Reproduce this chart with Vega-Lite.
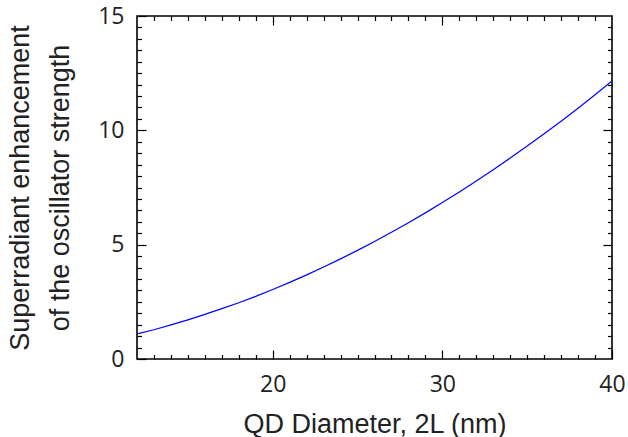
{
  "$schema": "https://vega.github.io/schema/vega-lite/v6.json",
  "width": 475,
  "height": 343,
  "autosize": {"type": "none"},
  "padding": {"left": 137, "top": 16, "right": 16, "bottom": 78},
  "background": "white",
  "config": {
    "view": {"stroke": "black", "strokeWidth": 1.6},
    "axis": {"grid": false, "domain": false, "tickColor": "black", "tickWidth": 1.2, "labelColor": "#222", "titleColor": "#222", "labelFont": "Open Sans", "labelFontSize": 23, "titleFont": "Liberation Sans", "titleFontSize": 27, "titleFontWeight": "normal"}
  },
  "data": {"values": [
    {"d": 12, "f": 1.10}, {"d": 13, "f": 1.28}, {"d": 14, "f": 1.49}, {"d": 15, "f": 1.71},
    {"d": 16, "f": 1.95}, {"d": 17, "f": 2.20}, {"d": 18, "f": 2.46}, {"d": 19, "f": 2.74},
    {"d": 20, "f": 3.04}, {"d": 21, "f": 3.35}, {"d": 22, "f": 3.68}, {"d": 23, "f": 4.02},
    {"d": 24, "f": 4.38}, {"d": 25, "f": 4.75}, {"d": 26, "f": 5.14}, {"d": 27, "f": 5.54},
    {"d": 28, "f": 5.96}, {"d": 29, "f": 6.39}, {"d": 30, "f": 6.84}, {"d": 31, "f": 7.30},
    {"d": 32, "f": 7.78}, {"d": 33, "f": 8.28}, {"d": 34, "f": 8.79}, {"d": 35, "f": 9.31},
    {"d": 36, "f": 9.85}, {"d": 37, "f": 10.40}, {"d": 38, "f": 10.97}, {"d": 39, "f": 11.56},
    {"d": 40, "f": 12.16}
  ]},
  "resolve": {"axis": {"x": "independent", "y": "independent"}},
  "layer": [
    {
      "mark": {"type": "line", "color": "#0000ff", "strokeWidth": 1.2, "clip": true},
      "encoding": {
        "x": {"field": "d", "type": "quantitative", "scale": {"domain": [12, 40], "nice": false, "zero": false},
              "axis": {"orient": "bottom", "values": [13,14,15,16,17,18,19,20,21,22,23,24,25,26,27,28,29,30,31,32,33,34,35,36,37,38,39,40],
                       "tickSize": {"condition": {"test": "datum.value % 10 === 0", "value": -9}, "value": -4.5},
                       "labelExpr": "datum.value % 10 === 0 ? format(datum.value, 'd') : ''",
                       "labelPadding": 23, "labelFlush": false, "title": "QD Diameter, 2L (nm)", "titlePadding": 15}},
        "y": {"field": "f", "type": "quantitative", "scale": {"domain": [0, 15], "nice": false},
              "axis": {"orient": "left", "values": [0,0.5,1,1.5,2,2.5,3,3.5,4,4.5,5,5.5,6,6.5,7,7.5,8,8.5,9,9.5,10,10.5,11,11.5,12,12.5,13,13.5,14,14.5,15],
                       "tickSize": {"condition": {"test": "datum.value % 5 === 0", "value": -9}, "value": -4.5},
                       "labelExpr": "datum.value % 5 === 0 ? format(datum.value, 'd') : ''",
                       "labelPadding": 22, "labelFlush": false, "title": ["Superradiant enhancement", "of the oscillator strength"], "titlePadding": 23, "titleLineHeight": 40}}
      }
    },
    {
      "mark": {"type": "line", "opacity": 0},
      "encoding": {
        "x": {"field": "d", "type": "quantitative", "axis": {"orient": "top", "values": [13,14,15,16,17,18,19,20,21,22,23,24,25,26,27,28,29,30,31,32,33,34,35,36,37,38,39],
                       "tickSize": {"condition": {"test": "datum.value % 10 === 0", "value": -9}, "value": -4.5}, "labels": false, "title": null}},
        "y": {"field": "f", "type": "quantitative", "axis": {"orient": "right", "values": [0.5,1,1.5,2,2.5,3,3.5,4,4.5,5,5.5,6,6.5,7,7.5,8,8.5,9,9.5,10,10.5,11,11.5,12,12.5,13,13.5,14,14.5],
                       "tickSize": {"condition": {"test": "datum.value % 5 === 0", "value": -9}, "value": -4.5}, "labels": false, "title": null}}
      }
    }
  ]
}
